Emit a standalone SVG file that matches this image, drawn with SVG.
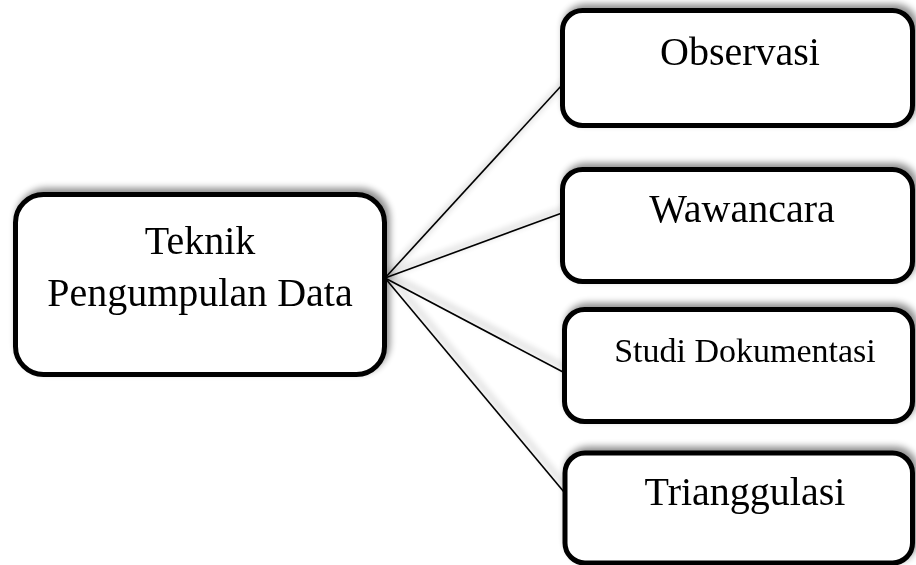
<svg xmlns="http://www.w3.org/2000/svg" width="916" height="565" viewBox="0 0 916 565">
  <defs>
    <!-- soft shadow cast toward the upper right -->
    <filter id="shadow" x="-10%" y="-20%" width="120%" height="140%">
      <feGaussianBlur in="SourceAlpha" stdDeviation="3.5"/>
      <feOffset dx="3" dy="-4" result="blur"/>
      <feComponentTransfer>
        <feFuncA type="linear" slope="0.45"/>
      </feComponentTransfer>
      <feMerge>
        <feMergeNode/>
        <feMergeNode in="SourceGraphic"/>
      </feMerge>
    </filter>
  </defs>
  <style>
    .box { fill: #ffffff; stroke: #000000; stroke-width: 5; }
    .label { font-family: "Liberation Serif", "Times New Roman", serif; fill: #000000; text-anchor: middle; }
    .link { stroke: #000000; stroke-width: 1.6; fill: none; }
  </style>

  <rect width="916" height="565" fill="#ffffff"/>

  <!-- connectors -->
  <g id="connectors" filter="url(#shadow)">
    <line class="link" x1="385" y1="278" x2="562" y2="85"/>
    <line class="link" x1="385" y1="278" x2="562" y2="213"/>
    <line class="link" x1="385" y1="278" x2="563" y2="372"/>
    <line class="link" x1="385" y1="278" x2="564" y2="492"/>
  </g>

  <g id="teknik" filter="url(#shadow)">
    <rect class="box" x="15.5" y="194.5" width="369" height="180" rx="28"/>
    <text class="label" x="200" y="254" font-size="40">Teknik</text>
    <text class="label" x="200" y="306" font-size="40">Pengumpulan Data</text>
  </g>

  <g id="observasi" filter="url(#shadow)">
    <rect class="box" x="562.5" y="10.5" width="350" height="115" rx="20"/>
    <text class="label" x="740" y="65" font-size="40">Observasi</text>
  </g>

  <g id="wawancara" filter="url(#shadow)">
    <rect class="box" x="562.5" y="169.5" width="350" height="112" rx="20"/>
    <text class="label" x="742" y="222" font-size="40">Wawancara</text>
  </g>

  <g id="studi" filter="url(#shadow)">
    <rect class="box" x="564.5" y="309.5" width="348" height="112" rx="20"/>
    <text class="label" x="745" y="362" font-size="34">Studi Dokumentasi</text>
  </g>

  <g id="trianggulasi" filter="url(#shadow)">
    <rect class="box" x="565" y="453" width="347.5" height="110" rx="20"/>
    <text class="label" x="745" y="505" font-size="40">Trianggulasi</text>
  </g>
</svg>
